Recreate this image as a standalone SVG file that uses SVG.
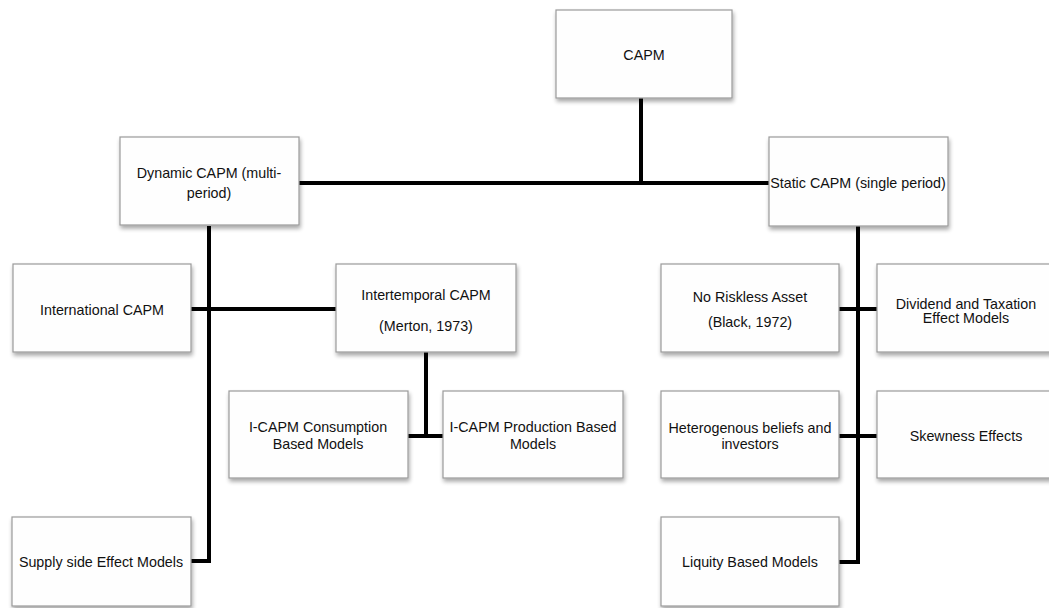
<svg xmlns="http://www.w3.org/2000/svg" width="1049" height="608" viewBox="0 0 1049 608">
<defs>
<filter id="sh" x="-10%" y="-10%" width="130%" height="130%">
<feGaussianBlur in="SourceAlpha" stdDeviation="2"/>
<feOffset dx="1" dy="3" result="b"/>
<feComponentTransfer><feFuncA type="linear" slope="0.35"/></feComponentTransfer>
<feMerge><feMergeNode/><feMergeNode in="SourceGraphic"/></feMerge>
</filter>
</defs>
<style>
.box{fill:#fefefe;stroke:#9a9a9a;stroke-width:1.2;filter:url(#sh)}
.t{font-family:"Liberation Sans",Arial,sans-serif;font-size:14.3px;fill:#111;text-anchor:middle;dominant-baseline:central}
.c{stroke:#000;stroke-width:4;fill:none;stroke-linejoin:miter}
</style>
<rect width="1049" height="608" fill="#fff"/>
<g id="connectors">
<path class="c" d="M641 98 V183"/>
<path class="c" d="M299 183 H769"/>
<path class="c" d="M209 226 V561 H191"/>
<path class="c" d="M191 309 H336"/>
<path class="c" d="M426 352 V436"/>
<path class="c" d="M408 436 H443"/>
<path class="c" d="M858 226 V562 H839"/>
<path class="c" d="M839 309 H877"/>
<path class="c" d="M839 436 H877"/>
</g>
<g id="capm"><rect class="box" x="556" y="10" width="176" height="88"/><text class="t" x="644" y="55">CAPM</text></g>
<g id="dynamic"><rect class="box" x="120" y="137" width="179" height="88"/><text class="t" x="209" y="173">Dynamic CAPM (multi-</text><text class="t" x="209" y="193">period)</text></g>
<g id="static"><rect class="box" x="769" y="137" width="179" height="89"/><text class="t" x="858" y="183">Static CAPM (single period)</text></g>
<g id="international"><rect class="box" x="13" y="264" width="178" height="88"/><text class="t" x="102" y="310">International CAPM</text></g>
<g id="intertemporal"><rect class="box" x="336" y="264" width="180" height="88"/><text class="t" x="426" y="295">Intertemporal CAPM</text><text class="t" x="426" y="326">(Merton, 1973)</text></g>
<g id="consumption"><rect class="box" x="229" y="391" width="179" height="87"/><text class="t" x="318" y="427">I-CAPM Consumption</text><text class="t" x="318" y="444">Based Models</text></g>
<g id="production"><rect class="box" x="443" y="391" width="180" height="87"/><text class="t" x="533" y="427">I-CAPM Production Based</text><text class="t" x="533" y="444">Models</text></g>
<g id="supply"><rect class="box" x="12" y="517" width="179" height="89"/><text class="t" x="101" y="562">Supply side Effect Models</text></g>
<g id="noriskless"><rect class="box" x="661" y="264" width="178" height="88"/><text class="t" x="750" y="297">No Riskless Asset</text><text class="t" x="750" y="322">(Black, 1972)</text></g>
<g id="dividend"><rect class="box" x="877" y="264" width="180" height="88"/><text class="t" x="966" y="304">Dividend and Taxation</text><text class="t" x="966" y="318">Effect Models</text></g>
<g id="heterogenous"><rect class="box" x="661" y="391" width="178" height="87"/><text class="t" x="750" y="428">Heterogenous beliefs and</text><text class="t" x="750" y="444">investors</text></g>
<g id="skewness"><rect class="box" x="877" y="391" width="180" height="87"/><text class="t" x="966" y="436">Skewness Effects</text></g>
<g id="liquity"><rect class="box" x="661" y="517" width="178" height="89"/><text class="t" x="750" y="562">Liquity Based Models</text></g>
</svg>
